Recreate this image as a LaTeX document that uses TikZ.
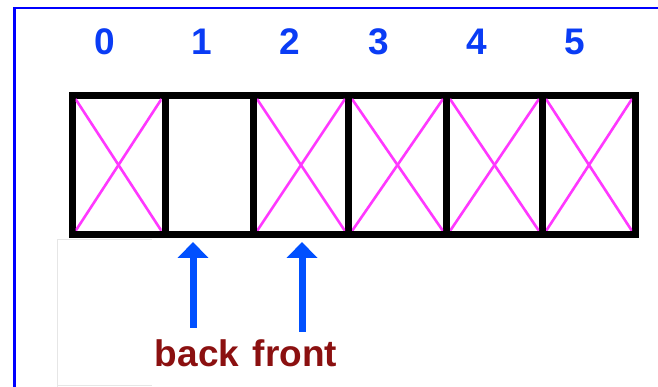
\documentclass[tikz,border=0pt]{standalone}
\usepackage{fontspec}
\setmainfont{Liberation Sans}
\usetikzlibrary{arrows.meta}
\definecolor{frameblue}{HTML}{0000FF}
\definecolor{digitblue}{HTML}{0A3CF5}
\definecolor{arrowblue}{HTML}{0050FF}
\definecolor{labelred}{HTML}{8B1010}
\definecolor{crosspink}{HTML}{FF38FF}
\definecolor{ghostgray}{HTML}{E6E6E6}
\tikzset{
  cell/.style={draw=black, line width=7pt, minimum height=139pt, inner sep=0pt, outer sep=0pt},
  cross/.style={draw=crosspink, line width=2.6pt},
  idx/.style={text=digitblue, font=\fontsize{37}{40}\selectfont\bfseries, anchor=base, inner sep=0pt},
  ptrlabel/.style={text=labelred, font=\fontsize{37}{40}\selectfont\bfseries, anchor=base, inner sep=0pt},
  ptrarrow/.style={draw=arrowblue, line width=7pt, -{Triangle[width=30pt,length=16pt]}},
}
\begin{document}
\begin{tikzpicture}[x=1pt,y=1pt]
\useasboundingbox (0,0) rectangle (658,387);
\fill[white] (0,0) rectangle (658,387);
% frame (only top and left edges visible)
\draw[frameblue, line width=2.3pt] (14.5,-5) -- (14.5,379.3) -- (670,379.3);
% faint screenshot rectangle
\draw[ghostgray, line width=0.9pt] (57,-5) -- (57,148) -- (152,148);
\draw[ghostgray, line width=0.9pt] (57,2) -- (152,2);
% cells
\node[cell, minimum width=93pt]   (c0) at (118.5,222) {};
\node[cell, minimum width=88.5pt] (c1) at (209.25,222) {};
\node[cell, minimum width=95pt]   (c2) at (301,222) {};
\node[cell, minimum width=98pt]   (c3) at (397.5,222) {};
\node[cell, minimum width=96pt]   (c4) at (494.5,222) {};
\node[cell, minimum width=93pt]   (c5) at (589,222) {};
% crosses in occupied cells
\foreach \c in {c0,c2,c3,c4,c5}{
  \begin{scope}
    \clip ([shift={(3.5,-3.5)}]\c.north west) rectangle ([shift={(-3.5,3.5)}]\c.south east);
    \draw[cross] ([shift={(3.5,-3.5)}]\c.north west) -- ([shift={(-3.5,3.5)}]\c.south east);
    \draw[cross] ([shift={(-3.5,-3.5)}]\c.north east) -- ([shift={(3.5,3.5)}]\c.south west);
  \end{scope}
}
% index labels
\node[idx] (i0) at (105,332) {0};
\node[idx] (i1) at (202,332) {1};
\node[idx] (i2) at (290,332) {2};
\node[idx] (i3) at (379,332) {3};
\node[idx] (i4) at (477,332) {4};
\node[idx] (i5) at (575,332) {5};
% pointer labels
\node[ptrlabel] (back) at (197,20) {back};
\node[ptrlabel] (front) at (295,20) {front};
% arrows
\coordinate (bs) at (193,59);
\coordinate (be) at (193,145);
\coordinate (fs) at (302,55);
\coordinate (fe) at (302,145);
\draw[ptrarrow] (bs) -- (be);
\draw[ptrarrow] (fs) -- (fe);
\end{tikzpicture}
\end{document}
